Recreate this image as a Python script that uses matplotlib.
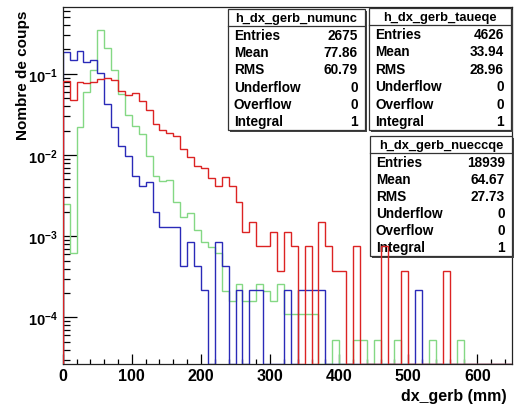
import numpy as np
import matplotlib
matplotlib.use('Agg')
import matplotlib.pyplot as plt
from matplotlib.patches import Rectangle
from matplotlib.ticker import FixedLocator, NullFormatter, FuncFormatter
from matplotlib.lines import Line2D
import matplotlib.transforms as mtransforms

plt.rcParams['font.family'] = ['Liberation Sans', 'DejaVu Sans']
plt.rcParams['font.weight'] = 'bold'
plt.rcParams['mathtext.fontset'] = 'custom'
plt.rcParams['mathtext.rm'] = 'Liberation Sans:bold'
plt.rcParams['mathtext.bf'] = 'Liberation Sans:bold'
plt.rcParams['mathtext.it'] = 'Liberation Sans:bold:italic'

# ---------------- data ----------------
bin_edges = np.arange(0, 660, 10)  # 0 .. 650 mm, 65 bins

h_numunc = [0.0822, 0.0475, 0.0785, 0.0767, 0.080, 0.0863, 0.0888, 0.084, 0.062, 0.0548,
            0.058, 0.0466, 0.0358, 0.0241, 0.0205, 0.0187, 0.0173, 0.0119, 0.0094, 0.0074,
            0.0069, 0.0052, 0.0041, 0.0053, 0.0041, 0.00262, 0.00112, 0.0015, 0.00075, 0.00075,
            0.00112, 0.00037, 0.00112, 0.00075, 0, 0.00075, 0, 0.0015, 0.00075, 0.00037,
            0.00037, 0, 0.00075, 0, 0, 0, 0.00075, 0, 0, 0.00037,
            0, 0, 0, 0, 0, 0.00037, 0, 0, 0, 0,
            0, 0, 0, 0, 0]

h_taueqe = [0.184, 0.148, 0.189, 0.139, 0.149, 0.101, 0.0425, 0.0223, 0.013, 0.0098,
            0.0055, 0.0041, 0.0046, 0.00197, 0.0013, 0.0013, 0.0013, 0.00043, 0.00086, 0.00043,
            0.00022, 0, 0.00086, 0.00043, 0, 0.00022, 0, 0.00022, 0.00022, 0,
            0, 0, 0.00022, 0, 0.00022, 0.00022, 0.00022, 0.00022, 0, 0,
            0, 0, 0, 0, 0, 0, 0, 0, 0, 0,
            0, 0.00022, 0, 0, 0, 0, 0, 0, 0, 0,
            0, 0, 0, 0, 0]

h_nueccqe = [0.00249, 0.00063, 0.0219, 0.059, 0.11, 0.347, 0.206, 0.11, 0.0564, 0.0311,
             0.0228, 0.0181, 0.0098, 0.00556, 0.00476, 0.0049, 0.00263, 0.00174, 0.00191, 0.00119,
             0.00084, 0.00074, 0.00063, 0.00021, 0.00016, 0.00026, 0.00016, 0.00016, 0.00026, 0.00021,
             0.00016, 0.00026, 0.00011, 0.00011, 0.00011, 0.00011, 0.00011, 0, 0, 0.000053,
             0, 0, 0.000053, 0.000053, 0, 0.000053, 0, 0, 0.000053, 0,
             0, 0, 0, 0.000053, 0, 0, 0, 0.000053, 0, 0,
             0, 0, 0, 0, 0]

stat_names = ["h_dx_gerb_numunc", "h_dx_gerb_taueqe", "h_dx_gerb_nueccqe"]
stat_labels = ["Entries", "Mean", "RMS", "Underflow", "Overflow", "Integral"]
stat_numunc = ["2675", "77.86", "60.79", "0", "0", "1"]
stat_taueqe = ["4626", "33.94", "28.96", "0", "0", "1"]
stat_nueccqe = ["18939", "64.67", "27.73", "0", "0", "1"]

xtick_major = [0, 100, 200, 300, 400, 500, 600]
y_decades = [-4, -3, -2, -1]

# ---------------- figure ----------------
W, H = 515, 406
fig = plt.figure(figsize=(W / 100, H / 100), dpi=100)
ax = fig.add_axes([62.7 / W, 1 - 365 / H, (512 - 62.7) / W, (365 - 8.3) / H])

ylo, yhi = 2.67e-5, 0.659
ax.set_yscale('log')
ax.set_xlim(0, 650)
ax.set_ylim(ylo, yhi)

col_red = '#dc2323'
col_blue = '#2a2ab8'
col_green = '#84d884'

ax.stairs(np.maximum(h_nueccqe, ylo), bin_edges, baseline=ylo, color=col_green, lw=1.0, zorder=2)
ax.stairs(np.maximum(h_taueqe, ylo), bin_edges, baseline=ylo, color=col_blue, lw=1.0, zorder=2.5)
ax.stairs(np.maximum(h_numunc, ylo), bin_edges, baseline=ylo, color=col_red, lw=1.0, zorder=4)

# ticks
ax.xaxis.set_major_locator(FixedLocator(xtick_major))
ax.xaxis.set_minor_locator(FixedLocator(np.arange(0, 651, 20)))
ax.yaxis.set_major_locator(FixedLocator([10.0 ** d for d in y_decades]))
minors = [k * 10.0 ** d for d in range(-5, 0) for k in range(2, 10)]
ax.yaxis.set_minor_locator(FixedLocator(minors))
ax.yaxis.set_minor_formatter(NullFormatter())
ax.yaxis.set_major_formatter(FuncFormatter(lambda v, p: r'$\mathbf{10^{%d}}$' % int(round(np.log10(v)))))
ax.xaxis.set_major_formatter(FuncFormatter(lambda v, p: '%d' % v))

ax.tick_params(axis='y', which='major', direction='in', length=10, width=0.9, pad=3.5, labelsize=10.5)
ax.tick_params(axis='y', which='minor', direction='in', length=5, width=0.9)
ax.tick_params(axis='x', which='major', direction='in', length=7.5, width=0.9, pad=3, labelsize=11.5)
ax.tick_params(axis='x', which='minor', direction='in', length=3.6, width=0.9)
for lab in ax.get_xticklabels() + ax.get_yticklabels():
    lab.set_fontweight('bold')
for s in ax.spines.values():
    s.set_color('#222222')
    s.set_linewidth(0.9)

fig.text(23 / W, 1 - 11 / H, 'Nombre de coups', rotation=90, ha='center', va='top',
         fontsize=11, fontweight='bold')
fig.text(507 / W, 1 - 397 / H, 'dx_gerb (mm)', ha='right', va='center',
         fontsize=11.5, fontweight='bold')

# ---------------- stat boxes (pixel coords, y down) ----------------
pix = mtransforms.Affine2D().scale(1 / W, -1 / H).translate(0, 1) + fig.transFigure


def stat_box(x0, y0, x1, y1, name, values, z):
    ax.add_patch(Rectangle((x0 + 2, y0 + 2), x1 - x0, y1 - y0, transform=pix, clip_on=False,
                           facecolor='#444444', edgecolor='none', zorder=z))
    ax.add_patch(Rectangle((x0, y0), x1 - x0, y1 - y0, transform=pix, clip_on=False,
                           facecolor='white', edgecolor='#333333', lw=0.9, zorder=z + 0.01))
    hdr_h = 17
    ax.add_line(Line2D([x0, x1], [y0 + hdr_h, y0 + hdr_h], transform=pix, clip_on=False,
                       color='#333333', lw=0.9, zorder=z + 0.02))
    ax.text((x0 + x1) / 2, y0 + hdr_h / 2 + 0.5, name, transform=pix, ha='center', va='center',
            fontsize=9.3, fontweight='bold', zorder=z + 0.03, clip_on=False)
    step = (y1 - (y0 + hdr_h)) / 6.0
    for i, (lab, val) in enumerate(zip(stat_labels, values)):
        yc = y0 + hdr_h + step * (i + 0.5)
        ax.text(x0 + 6, yc, lab, transform=pix, ha='left', va='center', fontsize=9.8,
                fontweight='bold', zorder=z + 0.03, clip_on=False)
        ax.text(x1 - 7, yc, val, transform=pix, ha='right', va='center', fontsize=9.8,
                fontweight='bold', zorder=z + 0.03, clip_on=False)


stat_box(370, 137, 512, 257, stat_names[2], stat_nueccqe, 3)
stat_box(369, 9, 511, 131, stat_names[1], stat_taueqe, 3.5)
stat_box(228, 10, 365, 131, stat_names[0], stat_numunc, 5)

fig.savefig('out.png', dpi=100)
